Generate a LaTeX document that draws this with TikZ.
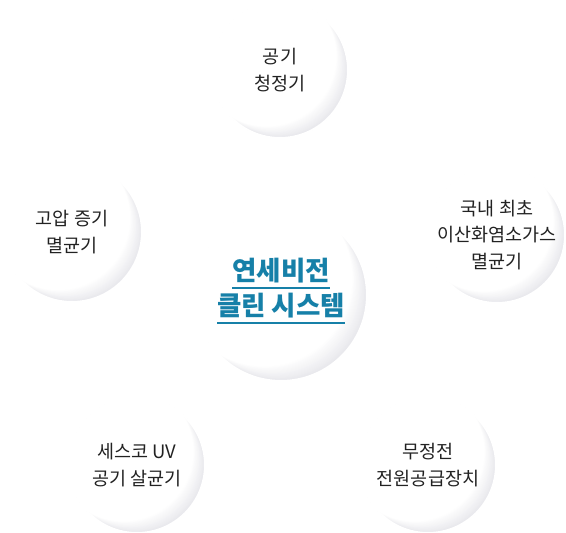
\documentclass[tikz,border=0pt]{standalone}
\usepackage{fontspec}
\setmainfont{Noto Sans CJK KR}
\usepackage{tikz}
\usetikzlibrary{positioning}

\definecolor{rimgray}{RGB}{232,232,236}
\definecolor{hubblue}{RGB}{22,128,168}
\definecolor{labelgray}{RGB}{34,34,34}

\newcommand{\hubline}[1]{\setbox0\hbox{#1}\leavevmode\rlap{\rule[-8pt]{\wd0}{2pt}}\box0}

\begin{document}
\begin{tikzpicture}[
        x=1pt, y=-1pt,
        ball/.style={
            circle, inner sep=0pt, minimum size=2*#1 pt, fill=white,
            draw=white, line width=2pt,
            path picture={
                % soft rim, light from upper left
                \fill[rimgray]
                    ([shift={(0.04*#1 pt, -0.04*#1 pt)}]path picture bounding box.center)
                    circle [radius=#1 pt];
                \foreach \k [evaluate=\k as \p using int(100*\k/20)] in {1,...,20} {
                    \fill[white!\p!rimgray]
                        ([shift={(-0.2*#1*\k/20 pt, 0.2*#1*\k/20 pt)}]path picture bounding box.center)
                        circle [radius=(1+0.03*\k/20)*#1 pt];
                }
            }
        },
        ball/.default=68,
        lbl/.style={
            align=center, text=labelgray, inner sep=0pt,
            font=\fontsize{18.5}{26.5}\selectfont
        },
        hub/.style={
            align=center, text=hubblue, inner sep=0pt,
            font=\fontsize{26.5}{35}\selectfont\bfseries
        }
    ]
    \useasboundingbox (0,0) rectangle (566,533);

    % --- Circles ---
    \node[ball] (purifier) at (280,70) {};
    \node[ball=70] (steam) at (72,232) {};
    \node[ball] (gas) at (497,235) {};
    \node[ball=86] (system) at (281,295) {};
    \node[ball] (uv) at (137,465) {};
    \node[ball] (power) at (428,465) {};

    % --- Labels ---
    \node[lbl] (purifier-text) at (purifier) {공기\\청정기};
    \node[lbl] (steam-text) at (steam) {고압 증기\\멸균기};
    \node[lbl] (gas-text) at (gas) {국내 최초\\이산화염소가스\\멸균기};
    \node[lbl] (uv-text) at (uv) {세스코 UV\\공기 살균기};
    \node[lbl] (power-text) at (power) {무정전\\전원공급장치};
    \node[hub] (system-text) at ([yshift=4pt]system.center) {\hubline{연세비전}\\\hubline{클린 시스템}};

\end{tikzpicture}
\end{document}
